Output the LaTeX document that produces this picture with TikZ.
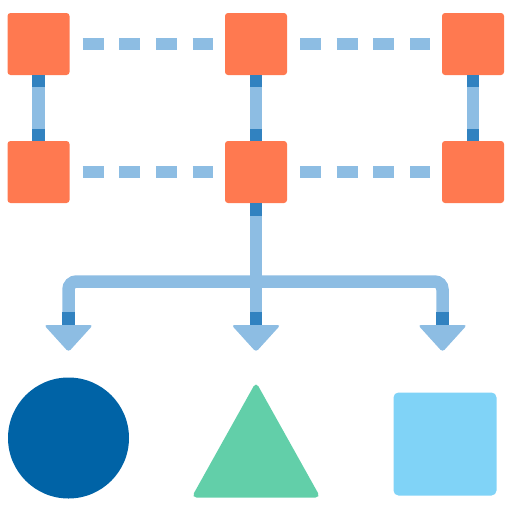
\documentclass[tikz,border=0pt]{standalone}
\usetikzlibrary{calc}
\definecolor{sqorange}{HTML}{FF7950}
\definecolor{linkblue}{HTML}{8DBDE3}
\definecolor{darkblue}{HTML}{3182C0}
\definecolor{circblue}{HTML}{0063A6}
\definecolor{trigreen}{HTML}{62CFA9}
\definecolor{skyblue}{HTML}{80D3F7}
\begin{document}
\begin{tikzpicture}[x=1pt,y=-1pt,
  sq/.style={fill=sqorange, rounded corners=3pt, minimum size=62pt, inner sep=0pt, outer sep=0pt},
  dashlink/.style={draw=linkblue, line width=12pt, dash pattern=on 21pt off 15.67pt, shorten <=13pt, shorten >=12pt},
  vlink/.style={draw=linkblue, line width=12.5pt},
  darkseg/.style={draw=darkblue, line width=12.5pt},
  headfill/.style={fill=linkblue, rounded corners=3pt}]
\useasboundingbox (0,0) rectangle (512,512);
% squares
\node[sq] (a1) at (38.5,44) {};
\node[sq] (a2) at (256,44) {};
\node[sq] (a3) at (473,44) {};
\node[sq] (b1) at (38.5,172) {};
\node[sq] (b2) at (256,172) {};
\node[sq] (b3) at (473,172) {};
% dashed links
\draw[dashlink] (a1.east) -- (a2.west);
\draw[dashlink] (a2.east) -- (a3.west);
\draw[dashlink] (b1.east) -- (b2.west);
\draw[dashlink] (b2.east) -- (b3.west);
% vertical links
\foreach \c in {1,2,3}{
  \draw[vlink] (a\c.south) -- (b\c.north);
  \draw[darkseg] (a\c.south) -- ++(0,12);
  \draw[darkseg] (b\c.north) -- ++(0,-12);
}
% tree
\coordinate (hL) at (68.5,325);
\coordinate (hM) at (256,325);
\coordinate (hR) at (442.5,325);
\coordinate (jL) at (68.5,281.5);
\coordinate (jR) at (442.5,281.5);
\draw[vlink] (b2.south) -- (hM);
\draw[vlink, rounded corners=8pt] (hL) -- (jL) -- (jR) -- (hR);
\draw[darkseg] (b2.south) -- ++(0,13);
\foreach \h in {hL,hM,hR}{
  \draw[darkseg] (\h) -- ++(0,-13);
  \fill[headfill] ($(\h)+(-24.5,0)$) -- ($(\h)+(24.5,0)$) -- ($(\h)+(0,27)$) -- cycle;
}
% bottom shapes
\node[circle, fill=circblue, minimum size=121pt, inner sep=0pt] (circ) at (68.5,438) {};
\fill[trigreen, rounded corners=5pt] (256,382) -- (320.5,497.5) -- (191.5,497.5) -- cycle;
\node[fill=skyblue, rounded corners=5pt, minimum size=103pt, inner sep=0pt] (sqr) at (445,444) {};
\end{tikzpicture}
\end{document}
